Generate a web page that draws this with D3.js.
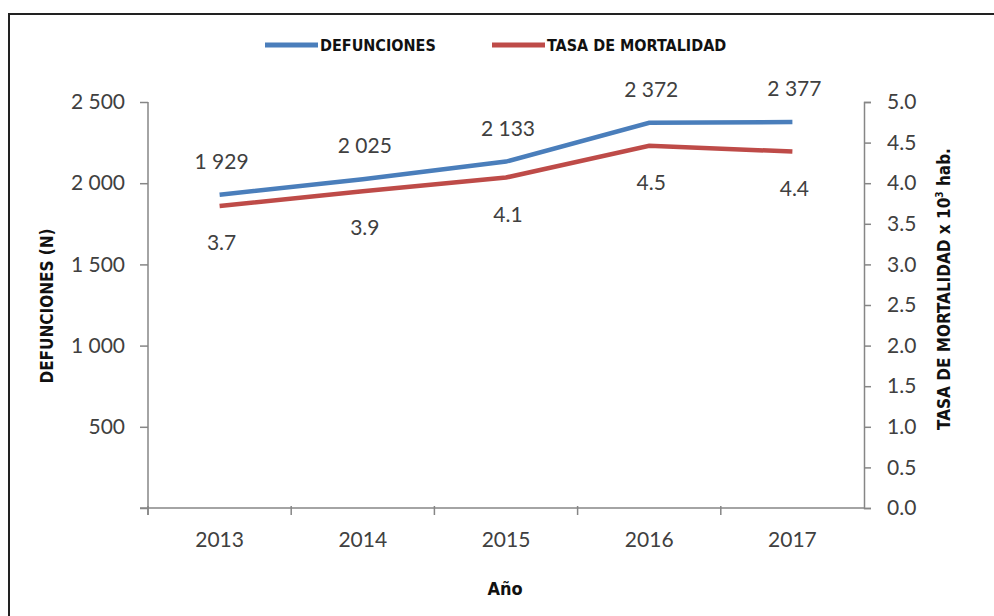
<!DOCTYPE html>
<html>
<head>
<meta charset="utf-8">
<script src="https://cdn.jsdelivr.net/npm/d3@7"></script>
<style>
  body { margin: 0; background: #fff; }
  svg { display: block; }
  .tick text { font-family: Lato, "Open Sans", sans-serif; font-size: 21px; fill: #404040; }
  .narrow { font-family: "Liberation Sans Narrow", "Arial Narrow", "DejaVu Sans Condensed", sans-serif; font-weight: bold; font-stretch: condensed; fill: #111; }
</style>
</head>
<body>
<svg id="chart" width="994" height="616"></svg>
<script>
// data
var years = ["2013", "2014", "2015", "2016", "2017"]
var defunciones = [1929, 2025, 2133, 2372, 2377]
var tasa = [3.72, 3.9, 4.07, 4.46, 4.39]
var tasaLabels = ["3.7", "3.9", "4.1", "4.5", "4.4"]
var leftTicks = [0, 500, 1000, 1500, 2000, 2500]
var rightTicks = [0, 0.5, 1, 1.5, 2, 2.5, 3, 3.5, 4, 4.5, 5]

var blue = "#4a7ebb"
var red = "#be4b48"
var axisColor = "#868686"

var svg = d3.select("#chart")

var x = d3.scaleBand().domain(years).range([148, 864])
var yL = d3.scaleLinear().domain([0, 2500]).range([508, 102])
var yR = d3.scaleLinear().domain([0, 5]).range([508, 102])

var loc = d3.formatLocale({decimal: ".", thousands: " ", grouping: [3], currency: ["", ""]})
var fmtN = loc.format(",d")

// frame (top and left only, the rest is cut off)
svg.append("path")
    .attr("d", "M9,616 V14 H994")
    .attr("fill", "none")
    .attr("stroke", "#222")
    .attr("stroke-width", 2)

// left axis
var gL = svg.append("g")
    .attr("transform", "translate(148,0)")
    .call(d3.axisLeft(yL).tickValues(leftTicks).tickSize(8).tickPadding(15)
        .tickFormat(d => d === 0 ? "" : fmtN(d)))

// right axis
var gR = svg.append("g")
    .attr("transform", "translate(864,0)")
    .call(d3.axisRight(yR).tickValues(rightTicks).tickSize(7).tickPadding(16)
        .tickFormat(d3.format(".1f")))

// x axis, ticks on the category edges
var gX = svg.append("g")
    .attr("transform", "translate(0,508)")
    .call(d3.axisBottom(x).tickSize(0).tickPadding(24))
gX.selectAll(".tick text").attr("dy", "0.71em")

gX.selectAll("line.edge")
    .data(years)
    .enter()
    .append("line")
    .attr("class", "edge")
    .attr("x1", d => x(d))
    .attr("x2", d => x(d))
    .attr("y1", -2)
    .attr("y2", 7)
    .attr("stroke", axisColor)

;[gL, gR, gX].forEach(g => {
    g.select(".domain").attr("stroke", axisColor).attr("stroke-width", 1.5)
    g.selectAll("line").attr("stroke", axisColor).attr("stroke-width", 1.5)
})
gL.select(".domain").attr("d", "M0,102V515")
gX.select(".domain").attr("d", "M140,0H864")

// lines
var lineL = d3.line()
    .x((d, i) => x(years[i]) + x.bandwidth() / 2)
    .y(d => yL(d))
var lineR = d3.line()
    .x((d, i) => x(years[i]) + x.bandwidth() / 2)
    .y(d => yR(d))

svg.append("path")
    .datum(defunciones)
    .attr("d", lineL)
    .attr("fill", "none")
    .attr("stroke", blue)
    .attr("stroke-width", 4.5)

svg.append("path")
    .datum(tasa)
    .attr("d", lineR)
    .attr("fill", "none")
    .attr("stroke", red)
    .attr("stroke-width", 4.5)

// data labels
svg.append("g")
    .selectAll("text")
    .data(defunciones)
    .enter()
    .append("text")
    .attr("x", (d, i) => x(years[i]) + x.bandwidth() / 2 + 2)
    .attr("y", d => yL(d) - 26)
    .attr("text-anchor", "middle")
    .style("font-family", "Lato, 'Open Sans', sans-serif")
    .style("font-size", "21px")
    .attr("fill", "#404040")
    .text(d => fmtN(d))

svg.append("g")
    .selectAll("text")
    .data(tasa)
    .enter()
    .append("text")
    .attr("x", (d, i) => x(years[i]) + x.bandwidth() / 2 + 2)
    .attr("y", d => yR(d) + 44)
    .attr("text-anchor", "middle")
    .style("font-family", "Lato, 'Open Sans', sans-serif")
    .style("font-size", "21px")
    .attr("fill", "#404040")
    .text((d, i) => tasaLabels[i])

// axis titles
svg.append("text")
    .attr("class", "narrow")
    .attr("transform", "translate(53,306) rotate(-90)")
    .attr("text-anchor", "middle")
    .style("font-size", "17px")
    .text("DEFUNCIONES (N)")

var rt = svg.append("text")
    .attr("class", "narrow")
    .attr("transform", "translate(950,289) rotate(-90)")
    .attr("text-anchor", "middle")
    .style("font-size", "17px")
rt.append("tspan").text("TASA DE MORTALIDAD x 10")
rt.append("tspan").attr("dy", -7).style("font-size", "10px").text("3")
rt.append("tspan").attr("dy", 7).text(" hab.")

svg.append("text")
    .attr("class", "narrow")
    .attr("x", 505)
    .attr("y", 595)
    .attr("text-anchor", "middle")
    .style("font-size", "18px")
    .text("Año")

// legend
var legend = [{name: "DEFUNCIONES", color: blue, x: 265}, {name: "TASA DE MORTALIDAD", color: red, x: 492}]
var lg = svg.append("g")
    .selectAll("g")
    .data(legend)
    .enter()
    .append("g")
    .attr("transform", d => "translate(" + d.x + ",45)")
lg.append("line")
    .attr("x1", 0)
    .attr("x2", 53)
    .attr("stroke", d => d.color)
    .attr("stroke-width", 5)
lg.append("text")
    .attr("class", "narrow")
    .attr("x", 55)
    .attr("y", 6)
    .style("font-size", "16px")
    .text(d => d.name)
</script>
</body>
</html>
